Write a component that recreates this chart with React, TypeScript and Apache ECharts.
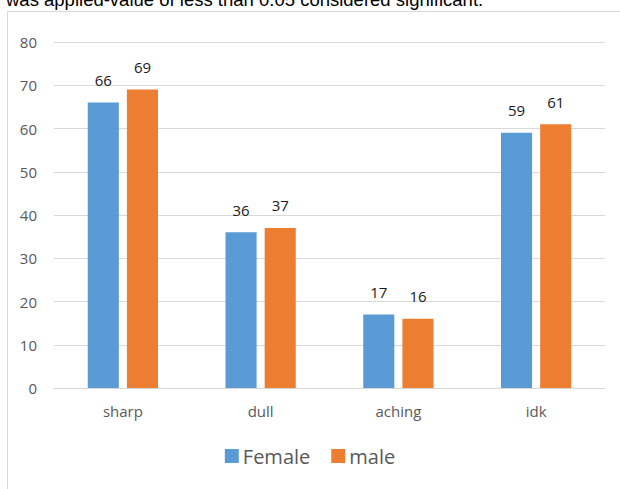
import React, { useEffect, useRef } from "react";
import * as echarts from "echarts";

const categories = ["sharp", "dull", "aching", "idk"];
const femaleValues = [66, 36, 17, 59];
const maleValues = [69, 37, 16, 61];
const yTicks = { min: 0, max: 80, interval: 10 };
const captionText = "was applied-value of less than 0.05 considered significant.";

export default function App() {
  const ref = useRef<HTMLDivElement>(null);
  useEffect(() => {
    if (!ref.current) return;
    const chart = echarts.init(ref.current, null, { renderer: "svg" });
    const labelStyle = {
      show: true,
      position: "top",
      distance: 15,
      color: "#1a1a1a",
      fontSize: 15,
      fontFamily: "Open Sans",
    };
    chart.setOption({
      animation: false,
      backgroundColor: "#ffffff",
      graphic: [
        {
          type: "rect",
          shape: { x: 7.5, y: 11.5, width: 700, height: 600 },
          style: { fill: "none", stroke: "#d9d9d9", lineWidth: 1 },
          silent: true,
        },
        {
          type: "text",
          x: 6,
          y: -1,
          style: {
            text: captionText,
            font: "18.5px 'Liberation Sans', Arial, sans-serif",
            fill: "#000000",
            textVerticalAlign: "middle",
          },
          silent: true,
        },
      ],
      grid: { left: 54, right: 15, top: 42, bottom: 101, containLabel: false },
      legend: {
        bottom: 18,
        left: "center",
        itemWidth: 14,
        itemHeight: 14,
        itemGap: 21,
        icon: "rect",
        textStyle: { fontSize: 20, color: "#595959", fontFamily: "Open Sans", padding: [0, 0, 0, -1] },
        data: ["Female", "male"],
      },
      xAxis: {
        type: "category",
        data: categories,
        axisLine: { show: true, lineStyle: { color: "#d9d9d9" } },
        axisTick: { show: false },
        axisLabel: { color: "#595959", fontSize: 15, fontFamily: "Open Sans", margin: 15 },
      },
      yAxis: {
        type: "value",
        min: yTicks.min,
        max: yTicks.max,
        interval: yTicks.interval,
        axisLine: { show: false },
        axisTick: { show: false },
        splitLine: { lineStyle: { color: "#d9d9d9" } },
        axisLabel: { color: "#595959", fontSize: 15, fontFamily: "Open Sans", margin: 17 },
      },
      series: [
        {
          name: "Female",
          type: "bar",
          data: femaleValues,
          itemStyle: { color: "#5b9bd5" },
          barGap: "26%",
          barCategoryGap: "49%",
          label: labelStyle,
        },
        {
          name: "male",
          type: "bar",
          data: maleValues,
          itemStyle: { color: "#ed7d31" },
          barGap: "26%",
          barCategoryGap: "49%",
          label: labelStyle,
        },
      ],
    });
    return () => chart.dispose();
  }, []);
  return (
    <div
      ref={ref}
      style={{ position: "fixed", left: 0, top: 0, width: 620, height: 489 }}
    />
  );
}
